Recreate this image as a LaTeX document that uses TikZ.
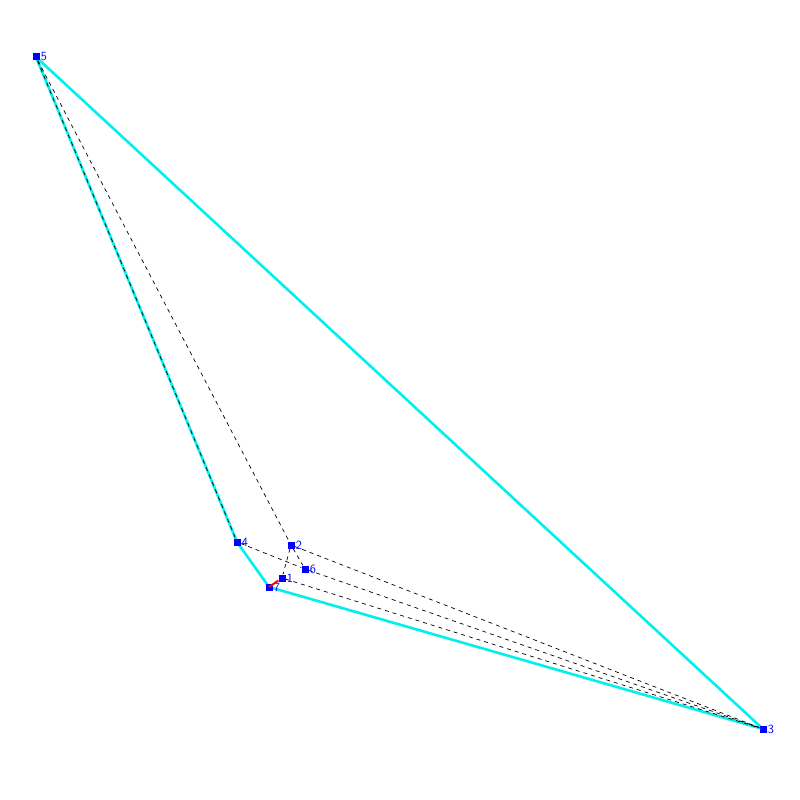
\documentclass[tikz,border=0pt]{standalone}
\usepackage{tikz}
\usetikzlibrary{backgrounds}
\definecolor{hullcyan}{RGB}{0,240,240}

\begin{document}
\begin{tikzpicture}[x=1pt, y=-1pt, v/.style={fill=blue, minimum size=7pt, inner sep=0pt, label={[lbl]right:#1}}, lbl/.style={text=blue, font=\sffamily\fontsize{12.5}{12.5}\selectfont, inner sep=0pt, label distance=1pt}, hull/.style={hullcyan, line width=2.6pt}, e/.style={black, dash pattern=on 4pt off 4pt, line width=0.7pt}]
\useasboundingbox (0,0) rectangle (800,800);
\node[v=5] (n5) at (36,57) {};
\node[v=4] (n4) at (237,542) {};
\node[v=2] (n2) at (291,545) {};
\node[v=6] (n6) at (305,569) {};
\node[v=1] (n1) at (282,578) {};
\node[v=7] (n7) at (269,587) {};
\node[v=3] (n3) at (763,729) {};
\begin{scope}[on background layer]
\draw[hull] (n5.center)--(n4.center)--(n7.center)--(n3.center)--cycle;
\draw[e] (n5)--(n4); \draw[e] (n5)--(n2); \draw[e] (n4)--(n6); \draw[e] (n2)--(n6); \draw[e] (n2)--(n1);
\draw[e] (n2)--(n3); \draw[e] (n6)--(n3); \draw[e] (n1)--(n3);
\end{scope}
\draw[red, line width=2pt] (n7.center)--(n1);
\end{tikzpicture}
\end{document}
